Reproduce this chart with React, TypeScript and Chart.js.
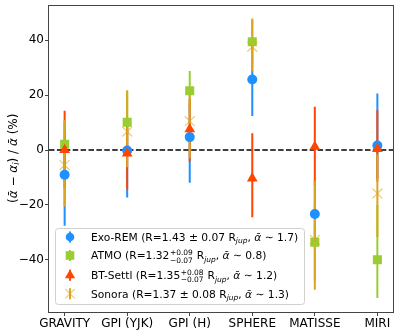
import React, { useEffect, useRef } from "react";
import { Chart, registerables } from "chart.js";

Chart.register(...registerables);

const categories = ["GRAVITY", "GPI (YJK)", "GPI (H)", "SPHERE", "MATISSE", "MIRI"];
const yTicks = [-40, -20, 0, 20, 40];

const exoremVal = [-9.0, -0.2, 4.7, 25.7, -23.3, 1.6];
const exoremLo = [18.6, 17.1, 16.6, 13.3, 12, 12];
const exoremHi = [9.6, 12, 12, 13, 12, 19.0];

const atmoVal = [2.1, 10.1, 21.6, 39.4, -33.6, -40.0];
const atmoLo = [10, 11, 7, 8, 14, 13.9];
const atmoHi = [8, 11, 7.2, 8, 14, 20];

const btsettlVal = [0.0, -1.2, 7.6, -10.3, 1.2, 0.4];
const btsettlLo = [14, 13, 11.8, 14.2, 14, 12];
const btsettlHi = [14.3, 12, 11, 16.4, 14.6, 14.1];

const sonoraVal = [-5.5, 6.7, 10.5, 37.6, -32.7, -15.8];
const sonoraLo = [15.1, 13.0, 13.5, 8.9, 18.2, 15.9];
const sonoraHi = [16.4, 15.1, 9.5, 10.3, 21.5, 14.3];

type Run = { t?: string; it?: boolean; sub?: string; stack?: [string, string] };

const legendTexts: Run[][] = [
  [{ t: "Exo-REM (R=1.43 \u00b1 0.07 R" }, { sub: "jup" }, { t: ", " }, { t: "\u1FB1", it: true }, { t: " \u223c 1.7)" }],
  [{ t: "ATMO (R=1.32" }, { stack: ["+0.09", "\u22120.07"] }, { t: " R" }, { sub: "jup" }, { t: ", " }, { t: "\u1FB1", it: true }, { t: " \u223c 0.8)" }],
  [{ t: "BT-Settl (R=1.35" }, { stack: ["+0.08", "\u22120.07"] }, { t: " R" }, { sub: "jup" }, { t: ", " }, { t: "\u1FB1", it: true }, { t: " \u223c 1.2)" }],
  [{ t: "Sonora (R=1.37 \u00b1 0.08 R" }, { sub: "jup" }, { t: ", " }, { t: "\u1FB1", it: true }, { t: " \u223c 1.3)" }],
];

const yTitle: Run[] = [
  { t: "(" }, { t: "\u1FB1", it: true }, { t: " \u2212 " }, { t: "\u03b1", it: true }, { sub: "i" },
  { t: ") / " }, { t: "\u1FB1", it: true }, { t: " (%)" },
];

const series = [
  { name: "Exo-REM", color: "#1E90FF", val: exoremVal, lo: exoremLo, hi: exoremHi, style: "circle", r: 5 },
  { name: "ATMO", color: "#9ACD32", val: atmoVal, lo: atmoLo, hi: atmoHi, style: "rect", r: 6.4 },
  { name: "BT-Settl", color: "#FF4500", val: btsettlVal, lo: btsettlLo, hi: btsettlHi, style: "triangle", r: 6.2 },
  { name: "Sonora", color: "#DAA520", val: sonoraVal, lo: sonoraLo, hi: sonoraHi, style: "crossRot", r: 7 },
];

const FONT = "'DejaVu Sans', sans-serif";

function font(size: number, it?: boolean) {
  return `${it ? "italic " : ""}${size}px ${FONT}`;
}

function measureRuns(ctx: CanvasRenderingContext2D, runs: Run[], F: number) {
  let w = 0;
  for (const r of runs) {
    if (r.t !== undefined) {
      ctx.font = font(F, r.it);
      w += ctx.measureText(r.t).width;
    } else if (r.sub !== undefined) {
      ctx.font = font(F * 0.7, true);
      w += ctx.measureText(r.sub).width;
    } else if (r.stack) {
      ctx.font = font(F * 0.7);
      w += Math.max(ctx.measureText(r.stack[0]).width, ctx.measureText(r.stack[1]).width) + 1;
    }
  }
  return w;
}

function drawRuns(ctx: CanvasRenderingContext2D, runs: Run[], x: number, y: number, F: number, color: string) {
  ctx.fillStyle = color;
  ctx.textBaseline = "alphabetic";
  ctx.textAlign = "left";
  let cx = x;
  for (const r of runs) {
    if (r.t !== undefined) {
      ctx.font = font(F, r.it);
      ctx.fillText(r.t, cx, y);
      cx += ctx.measureText(r.t).width;
    } else if (r.sub !== undefined) {
      ctx.font = font(F * 0.7, true);
      ctx.fillText(r.sub, cx, y + F * 0.22);
      cx += ctx.measureText(r.sub).width;
    } else if (r.stack) {
      ctx.font = font(F * 0.7);
      cx += 0.5;
      ctx.fillText(r.stack[0], cx, y - F * 0.42);
      ctx.fillText(r.stack[1], cx, y + F * 0.3);
      cx += Math.max(ctx.measureText(r.stack[0]).width, ctx.measureText(r.stack[1]).width) + 0.5;
    }
  }
}

function drawMarker(ctx: CanvasRenderingContext2D, style: string, x: number, y: number, r: number, color: string) {
  ctx.save();
  if (style === "circle") {
    ctx.fillStyle = color;
    ctx.beginPath();
    ctx.arc(x, y, r, 0, Math.PI * 2);
    ctx.fill();
  } else if (style === "rect") {
    const s = r * Math.SQRT1_2;
    ctx.fillStyle = color;
    ctx.fillRect(x - s, y - s, 2 * s, 2 * s);
  } else if (style === "triangle") {
    ctx.fillStyle = color;
    ctx.beginPath();
    ctx.moveTo(x, y - r);
    ctx.lineTo(x + r * 0.866, y + r * 0.5);
    ctx.lineTo(x - r * 0.866, y + r * 0.5);
    ctx.closePath();
    ctx.fill();
  } else {
    const d = r * Math.SQRT1_2;
    ctx.strokeStyle = "rgba(218,165,32,0.55)";
    ctx.lineWidth = 1.3;
    ctx.beginPath();
    ctx.moveTo(x - d, y - d);
    ctx.lineTo(x + d, y + d);
    ctx.moveTo(x + d, y - d);
    ctx.lineTo(x - d, y + d);
    ctx.stroke();
  }
  ctx.restore();
}

const errorBarPlugin = {
  id: "errbars",
  beforeDatasetsDraw(chart: any) {
    const { ctx, chartArea, scales } = chart;
    const xs = scales.x;
    const ys = scales.y;
    ctx.save();
    ctx.beginPath();
    ctx.rect(chartArea.left, chartArea.top, chartArea.right - chartArea.left, chartArea.bottom - chartArea.top);
    ctx.clip();
    const y0 = ys.getPixelForValue(0);
    ctx.strokeStyle = "#000";
    ctx.lineWidth = 1.5;
    ctx.setLineDash([5.5, 2.4]);
    ctx.beginPath();
    ctx.moveTo(chartArea.left, y0);
    ctx.lineTo(chartArea.right, y0);
    ctx.stroke();
    ctx.setLineDash([]);
    ctx.lineWidth = 2;
    for (const s of series) {
      ctx.strokeStyle = s.color;
      s.val.forEach((v, i) => {
        const px = xs.getPixelForValue(i);
        ctx.beginPath();
        ctx.moveTo(px, ys.getPixelForValue(v - s.lo[i]));
        ctx.lineTo(px, ys.getPixelForValue(v + s.hi[i]));
        ctx.stroke();
      });
    }
    ctx.restore();
  },
  afterDraw(chart: any) {
    const { ctx, chartArea } = chart;
    ctx.save();
    // frame
    ctx.strokeStyle = "#444";
    ctx.lineWidth = 1;
    ctx.strokeRect(
      Math.round(chartArea.left) - 0.5,
      Math.round(chartArea.top) + 0.5,
      Math.round(chartArea.right - chartArea.left) + 1,
      Math.round(chartArea.bottom - chartArea.top) - 1
    );
    // y title
    ctx.save();
    const F = 12;
    const tw = measureRuns(ctx, yTitle, F);
    const cy = (chartArea.top + chartArea.bottom) / 2;
    ctx.translate(16.5, cy);
    ctx.rotate(-Math.PI / 2);
    drawRuns(ctx, yTitle, -tw / 2, 0, F, "#000");
    ctx.restore();
    // legend
    const LF = 10.7;
    const bx = 55.5, by = 228.5, bw = 249, bh = 76;
    ctx.beginPath();
    (ctx as any).roundRect(bx, by, bw, bh, 3);
    ctx.fillStyle = "rgba(255,255,255,0.8)";
    ctx.fill();
    ctx.strokeStyle = "#d0d0d0";
    ctx.lineWidth = 1;
    ctx.stroke();
    const rows = [237, 255.5, 275.3, 293.7];
    series.forEach((s, k) => {
      const ry = rows[k];
      ctx.strokeStyle = s.color;
      ctx.lineWidth = 2;
      ctx.beginPath();
      ctx.moveTo(70, ry - 5.5);
      ctx.lineTo(70, ry + 5.5);
      ctx.stroke();
      drawMarker(ctx, s.style, 70, ry, s.style === "circle" ? 4.3 : s.r * 0.95, s.color);
      drawRuns(ctx, legendTexts[k], 91, ry + LF * 0.36, LF, "#000");
    });
    ctx.restore();
  },
};

export default function App() {
  const ref = useRef<HTMLCanvasElement | null>(null);
  useEffect(() => {
    if (!ref.current) return;
    const datasets = series.map((s, k) => ({
      label: s.name,
      data: s.val.map((v, i) => ({ x: i, y: v })),
      showLine: false,
      pointStyle: s.style as any,
      pointRadius: s.r,
      pointHoverRadius: s.r,
      backgroundColor: s.style === "crossRot" ? "rgba(218,165,32,0.55)" : s.color,
      borderColor: s.style === "crossRot" ? "rgba(218,165,32,0.55)" : s.color,
      borderWidth: s.style === "crossRot" ? 1.3 : 0,
      order: series.length - k,
    }));
    const chart = new Chart(ref.current, {
      type: "scatter",
      data: { datasets },
      plugins: [errorBarPlugin],
      options: {
        animation: false,
        responsive: false,
        devicePixelRatio: 1,
        layout: { autoPadding: false, padding: { left: 0, top: 4.5, right: 5, bottom: 0 } },
        plugins: { legend: { display: false }, tooltip: { enabled: false } },
        scales: {
          x: {
            type: "linear",
            min: -0.25,
            max: 5.25,
            afterBuildTicks: (scale: any) => {
              scale.ticks = categories.map((_, i) => ({ value: i }));
            },
            afterFit: (scale: any) => {
              scale.height = 21;
              scale.paddingLeft = 0;
              scale.paddingRight = 0;
            },
            ticks: {
              autoSkip: false,
              maxRotation: 0,
              minRotation: 0,
              padding: 1,
              color: "#000",
              font: { family: FONT, size: 12 },
              callback: (v: any) => categories[Math.round(Number(v))] ?? "",
            },
            grid: { drawOnChartArea: false, drawTicks: true, tickLength: 4, color: "#444" },
            border: { display: false },
          },
          y: {
            type: "linear",
            min: -59,
            max: 53,
            afterBuildTicks: (scale: any) => {
              scale.ticks = yTicks.map((v) => ({ value: v }));
            },
            afterFit: (scale: any) => {
              scale.width = 49;
              scale.paddingTop = 0;
              scale.paddingBottom = 0;
            },
            ticks: {
              padding: 1,
              color: "#000",
              font: { family: FONT, size: 12 },
              callback: (v: any) => (Number(v) < 0 ? "\u2212" + Math.abs(Number(v)) : String(v)),
            },
            grid: { drawOnChartArea: false, drawTicks: true, tickLength: 4, color: "#444" },
            border: { display: false },
          },
        },
      },
    });
    return () => chart.destroy();
  }, []);
  return (
    <div style={{ position: "fixed", left: 0, top: 0, width: 398, height: 333, background: "#fff" }}>
      <canvas ref={ref} width={398} height={333} style={{ display: "block" }} />
    </div>
  );
}
